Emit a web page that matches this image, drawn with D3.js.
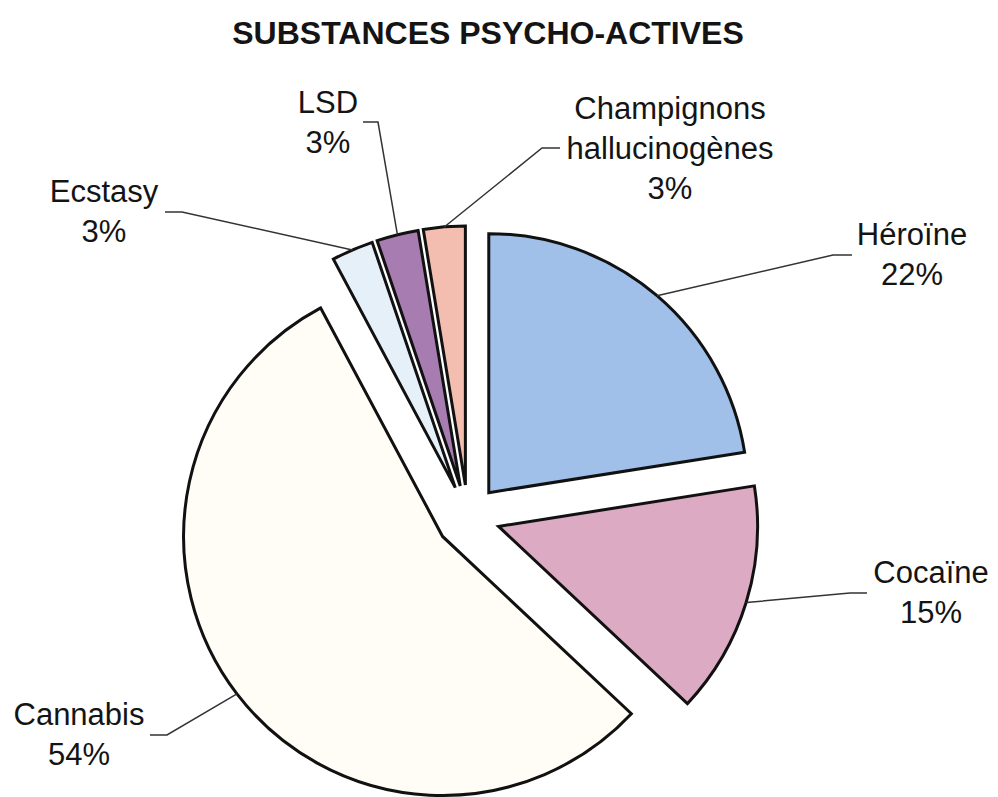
<!DOCTYPE html>
<html>
<head>
<meta charset="utf-8">
<script src="https://cdn.jsdelivr.net/npm/d3@7"></script>
<style>
  html, body { margin: 0; padding: 0; background: #ffffff; }
  svg { display: block; }
  text { font-family: "Liberation Sans", Arial, Helvetica, sans-serif; fill: #141414; }
</style>
</head>
<body>
<svg id="chart" width="998" height="797"></svg>
<script>
// ---- data ----
const title = "SUBSTANCES PSYCHO-ACTIVES";
const categories = ["Héroïne", "Cocaïne", "Cannabis", "Ecstasy", "LSD", "Champignons hallucinogènes"];
const labelLines = [["Héroïne"], ["Cocaïne"], ["Cannabis"], ["Ecstasy"], ["LSD"], ["Champignons", "hallucinogènes"]];
// slice shares as drawn in the picture
const values = [22.5, 14.5, 55.2, 2.6, 2.6, 2.6];
// percentages as printed on the labels
const percentLabels = ["22%", "15%", "54%", "3%", "3%", "3%"];
const colors = ["#a0c0ea", "#dcaac2", "#fffdf5", "#e6f0f9", "#a77cb0", "#f3bdb0"];

// ---- layout ----
const cx = 468, cy = 517, R = 259, explode = 32;
// label anchor (centre x, first baseline y) and leader elbow/end points
const labelPos = [
  { x: 912, y: 245, elbow: [833, 255], end: [852, 255] },
  { x: 931, y: 583, elbow: [850, 593], end: [867, 593] },
  { x: 79,  y: 725, elbow: [167, 735], end: [150, 735] },
  { x: 104, y: 202, elbow: [182, 212], end: [165, 212] },
  { x: 328, y: 113, elbow: [378, 122], end: [363, 122] },
  { x: 670, y: 119, elbow: [542, 148], end: [560, 148] }
];
const lineH = 40;

const svg = d3.select("#chart");

svg.append("text")
  .attr("x", 488).attr("y", 44)
  .attr("text-anchor", "middle")
  .style("font-size", "32px").style("font-weight", "bold")
  .text(title);

const pie = d3.pie().sort(null).value(d => d).startAngle(0).endAngle(2 * Math.PI);
const arcs = pie(values);
const arc = d3.arc().innerRadius(0).outerRadius(R);

const g = svg.append("g").attr("transform", `translate(${cx},${cy})`);

function offset(a) {
  const mid = (a.startAngle + a.endAngle) / 2;
  return [Math.sin(mid) * explode, -Math.cos(mid) * explode];
}

g.selectAll("path.slice")
  .data(arcs)
  .join("path")
  .attr("class", "slice")
  .attr("transform", d => { const o = offset(d); return `translate(${o[0]},${o[1]})`; })
  .attr("d", arc)
  .attr("fill", (d, i) => colors[i])
  .attr("stroke", "#111")
  .attr("stroke-width", 3)
  .attr("stroke-linejoin", "miter");

// leader lines
arcs.forEach((a, i) => {
  const mid = (a.startAngle + a.endAngle) / 2;
  const o = offset(a);
  const sx = cx + o[0] + Math.sin(mid) * R;
  const sy = cy + o[1] - Math.cos(mid) * R;
  const p = labelPos[i];
  svg.append("polyline")
    .attr("points", [[sx, sy], p.elbow, p.end].map(q => q.join(",")).join(" "))
    .attr("fill", "none")
    .attr("stroke", "#333")
    .attr("stroke-width", 1.5);
});

// labels
labelPos.forEach((p, i) => {
  const lines = labelLines[i].concat([percentLabels[i]]);
  const t = svg.append("text")
    .attr("text-anchor", "middle")
    .style("font-size", "31px");
  lines.forEach((ln, k) => {
    t.append("tspan").attr("x", p.x).attr("y", p.y + k * lineH).text(ln);
  });
});
</script>
</body>
</html>
